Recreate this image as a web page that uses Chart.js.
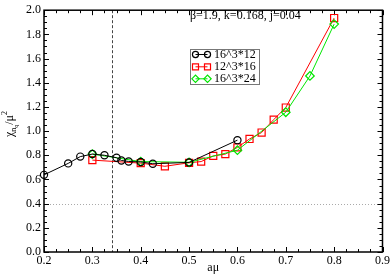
<!DOCTYPE html>
<html>
<head>
<meta charset="utf-8">
<script src="https://cdn.jsdelivr.net/npm/chart.js@4/dist/chart.umd.min.js"></script>
<style>
html,body{margin:0;padding:0;background:#fff;}
#wrap{width:392px;height:276px;position:relative;}
</style>
</head>
<body>
<div id="wrap"><canvas id="c" width="392" height="276"></canvas></div>
<script>
// ---- data ----
const seriesLabels = ["16^3*12", "12^3*16", "16^3*24"];
const blackX = [0.2, 0.25, 0.275, 0.3, 0.325, 0.35, 0.36, 0.375, 0.4, 0.425, 0.5, 0.6];
const blackY = [0.638, 0.733, 0.789, 0.81, 0.80, 0.78, 0.757, 0.749, 0.745, 0.73, 0.741, 0.925];
const redX = [0.3, 0.4, 0.45, 0.5, 0.525, 0.55, 0.575, 0.6, 0.625, 0.65, 0.675, 0.7, 0.8];
const redY = [0.76, 0.735, 0.709, 0.738, 0.748, 0.795, 0.81, 0.865, 0.935, 0.988, 1.095, 1.195, 1.935];
const greenX = [0.3, 0.4, 0.5, 0.6, 0.7, 0.75, 0.8];
const greenY = [0.81, 0.748, 0.742, 0.842, 1.156, 1.456, 1.885];
const xTicks = [0.2, 0.3, 0.4, 0.5, 0.6, 0.7, 0.8, 0.9];
const yTicks = [0.0, 0.2, 0.4, 0.6, 0.8, 1.0, 1.2, 1.4, 1.6, 1.8, 2.0];
const vLineX = 0.34;
const hLineY = 0.4;
const paramText = "β=1.9, k=0.168, j=0.04";
const xTitle = "aμ";

const pts = (xs, ys) => xs.map((x, i) => ({x: x, y: ys[i]}));
const SERIF = "'Liberation Serif', 'DejaVu Serif', serif";

const styles = [
  {color: '#000000', pointStyle: 'circle', radius: 3.6},
  {color: '#ff0000', pointStyle: 'rect', radius: 5},
  {color: '#00e600', pointStyle: 'rectRot', radius: 4.3}
];

function ds(i, data, order) {
  const s = styles[i];
  return {
    label: seriesLabels[i], data: data,
    borderColor: s.color, backgroundColor: 'rgba(0,0,0,0)',
    borderWidth: 1, pointStyle: s.pointStyle, pointRadius: s.radius,
    pointBorderColor: s.color, pointBackgroundColor: 'rgba(0,0,0,0)',
    pointBorderWidth: 1.2, tension: 0, clip: false, order: order
  };
}

const framePlugin = {
  id: 'frame',
  beforeDatasetsDraw(chart) {
    const {ctx, chartArea: a, scales: {x, y}} = chart;
    ctx.save();
    // reference lines
    ctx.strokeStyle = '#aaaaaa'; ctx.lineWidth = 1; ctx.setLineDash([1, 2]);
    const hy = Math.round(y.getPixelForValue(hLineY)) + 0.5;
    ctx.beginPath(); ctx.moveTo(a.left, hy); ctx.lineTo(a.right, hy); ctx.stroke();
    ctx.strokeStyle = '#444444'; ctx.setLineDash([3, 2]);
    const vx = Math.round(x.getPixelForValue(vLineX)) + 0.5;
    ctx.beginPath(); ctx.moveTo(vx, a.top); ctx.lineTo(vx, a.bottom); ctx.stroke();
    ctx.setLineDash([]);
    // box
    ctx.strokeStyle = '#000'; ctx.lineWidth = 1.5;
    ctx.strokeRect(a.left, a.top, a.right - a.left, a.bottom - a.top);
    // inward ticks
    ctx.lineWidth = 1;
    ctx.beginPath();
    for (let k = 0; k <= 28; k++) {
      const v = 0.2 + k * 0.025;
      const px = Math.round(x.getPixelForValue(v)) + 0.5;
      const len = (k % 4 === 0) ? 5 : 3;
      ctx.moveTo(px, a.bottom); ctx.lineTo(px, a.bottom - len);
      ctx.moveTo(px, a.top); ctx.lineTo(px, a.top + len);
    }
    for (let k = 0; k <= 40; k++) {
      const v = k * 0.05;
      const py = Math.round(y.getPixelForValue(v)) + 0.5;
      const len = (k % 4 === 0) ? 5 : 3;
      ctx.moveTo(a.left, py); ctx.lineTo(a.left + len, py);
      ctx.moveTo(a.right, py); ctx.lineTo(a.right - len, py);
    }
    ctx.stroke();
    ctx.restore();
  },
  afterDatasetsDraw(chart) {
    const {ctx, chartArea: a} = chart;
    ctx.save();
    // parameter text
    ctx.fillStyle = '#000';
    ctx.font = '12px ' + SERIF;
    ctx.textBaseline = 'middle'; ctx.textAlign = 'left';
    ctx.fillText(paramText, 190, 16);
    // legend
    const lx = 190.5, ly = 49.5, lw = 69, lh = 35;
    ctx.fillStyle = '#fff'; ctx.fillRect(lx, ly, lw, lh);
    ctx.strokeStyle = '#777'; ctx.lineWidth = 1; ctx.strokeRect(lx, ly, lw, lh);
    const rows = [54.5, 66.8, 78.8];
    chart.data.datasets.forEach((d) => {
      const i = seriesLabels.indexOf(d.label);
      const s = styles[i];
      const ry = rows[i];
      ctx.strokeStyle = s.color; ctx.lineWidth = 1;
      ctx.beginPath(); ctx.moveTo(195.5, ry); ctx.lineTo(207.5, ry); ctx.stroke();
      ctx.lineWidth = 1.2;
      ctx.fillStyle = 'rgba(0,0,0,0)';
      Chart.helpers.drawPoint(ctx, {pointStyle: s.pointStyle, radius: s.radius * 0.85, rotation: 0, borderWidth: 1.2}, 195.5, ry);
      Chart.helpers.drawPoint(ctx, {pointStyle: s.pointStyle, radius: s.radius * 0.85, rotation: 0, borderWidth: 1.2}, 207.5, ry);
      ctx.fillStyle = '#000';
      ctx.font = '12px ' + SERIF;
      ctx.textBaseline = 'middle';
      ctx.fillText(d.label, 214, ry + 0.5);
    });
    // x title
    ctx.fillStyle = '#000'; ctx.font = '12px ' + SERIF;
    ctx.textAlign = 'center'; ctx.textBaseline = 'middle';
    ctx.fillText(xTitle, (a.left + a.right) / 2, 268);
    // y title: chi_{n_q} / mu^2 (rotated)
    ctx.translate(13, 124);
    ctx.rotate(-Math.PI / 2);
    ctx.textAlign = 'left'; ctx.textBaseline = 'alphabetic';
    const parts = [
      {t: 'χ', f: 12, dy: 0},
      {t: 'n', f: 8, dy: 3},
      {t: 'q', f: 6, dy: 5},
      {t: '/μ', f: 12, dy: 0},
      {t: '2', f: 8, dy: -6}
    ];
    let total = 0;
    parts.forEach(p => { ctx.font = p.f + 'px ' + SERIF; p.w = ctx.measureText(p.t).width; total += p.w; });
    let cx = -total / 2;
    parts.forEach(p => { ctx.font = p.f + 'px ' + SERIF; ctx.fillText(p.t, cx, p.dy); cx += p.w; });
    ctx.restore();
  }
};

new Chart(document.getElementById('c'), {
  type: 'line',
  data: {
    datasets: [
      ds(0, pts(blackX, blackY), 0),
      ds(1, pts(redX, redY), 2),
      ds(2, pts(greenX, greenY), 1)
    ]
  },
  options: {
    responsive: false, animation: false, devicePixelRatio: 1,
    layout: {padding: {top: 4, right: 8, left: 0, bottom: 0}},
    plugins: {legend: {display: false}, tooltip: {enabled: false}},
    scales: {
      x: {
        type: 'linear', min: 0.2, max: 0.9,
        afterBuildTicks: (s) => { s.ticks = xTicks.map(v => ({value: v})); },
        afterFit: (s) => { s.height = 24; },
        grid: {display: false, drawTicks: false},
        border: {display: false},
        ticks: {padding: 2, color: '#000', font: {family: SERIF, size: 12}, maxRotation: 0,
          callback: (v) => Number(v).toFixed(1)}
      },
      y: {
        type: 'linear', min: 0, max: 2,
        afterBuildTicks: (s) => { s.ticks = yTicks.map(v => ({value: v})); },
        afterFit: (s) => { s.width = 44; },
        grid: {display: false, drawTicks: false},
        border: {display: false},
        ticks: {padding: 3, color: '#000', font: {family: SERIF, size: 12},
          callback: (v) => Number(v).toFixed(1)}
      }
    }
  },
  plugins: [framePlugin]
});
</script>
</body>
</html>
